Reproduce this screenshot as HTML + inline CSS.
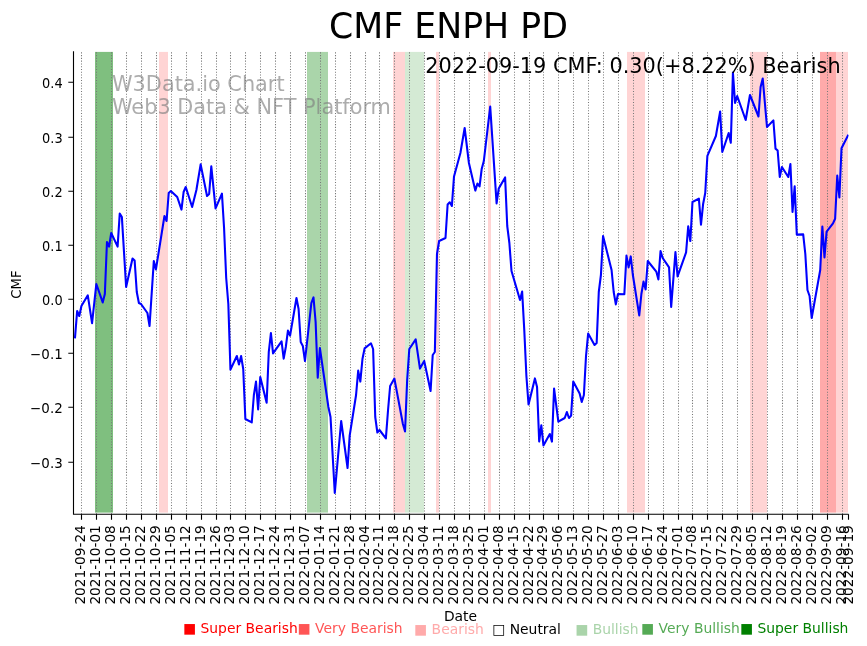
<!DOCTYPE html>
<html lang="en"><head><meta charset="utf-8"><title>CMF ENPH PD</title>
<style>html,body{margin:0;padding:0;background:#fff}svg{display:block}text{font-family:"DejaVu Sans","Liberation Sans",sans-serif}</style></head><body>
<svg width="867" height="646" viewBox="0 0 867 646">
<rect width="867" height="646" fill="#fff"/>
<rect x="95" y="51.9" width="18.00" height="460.70" fill="#008000" fill-opacity="0.5"/>
<rect x="159" y="51.9" width="9.00" height="460.70" fill="#ff0000" fill-opacity="0.1667"/>
<rect x="307" y="51.9" width="21.00" height="460.70" fill="#008000" fill-opacity="0.3333"/>
<rect x="393" y="51.9" width="12.00" height="460.70" fill="#ff0000" fill-opacity="0.1667"/>
<rect x="405" y="51.9" width="19.00" height="460.70" fill="#008000" fill-opacity="0.1667"/>
<rect x="436" y="51.9" width="3.00" height="460.70" fill="#ff0000" fill-opacity="0.1667"/>
<rect x="488" y="51.9" width="3.00" height="460.70" fill="#ff0000" fill-opacity="0.1667"/>
<rect x="627" y="51.9" width="18.00" height="460.70" fill="#ff0000" fill-opacity="0.1667"/>
<rect x="750" y="51.9" width="17.00" height="460.70" fill="#ff0000" fill-opacity="0.1667"/>
<rect x="820" y="51.9" width="16.00" height="460.70" fill="#ff0000" fill-opacity="0.3333"/>
<rect x="836" y="51.9" width="12.00" height="460.70" fill="#ff0000" fill-opacity="0.1667"/>
<path d="M81.5 514.3V51.9M96.5 514.3V51.9M111.5 514.3V51.9M126.5 514.3V51.9M141.5 514.3V51.9M156.5 514.3V51.9M171.5 514.3V51.9M186.5 514.3V51.9M201.5 514.3V51.9M216.5 514.3V51.9M230.5 514.3V51.9M245.5 514.3V51.9M260.5 514.3V51.9M275.5 514.3V51.9M290.5 514.3V51.9M305.5 514.3V51.9M320.5 514.3V51.9M335.5 514.3V51.9M350.5 514.3V51.9M365.5 514.3V51.9M379.5 514.3V51.9M394.5 514.3V51.9M409.5 514.3V51.9M424.5 514.3V51.9M439.5 514.3V51.9M454.5 514.3V51.9M469.5 514.3V51.9M484.5 514.3V51.9M499.5 514.3V51.9M514.5 514.3V51.9M529.5 514.3V51.9M543.5 514.3V51.9M558.5 514.3V51.9M573.5 514.3V51.9M588.5 514.3V51.9M603.5 514.3V51.9M618.5 514.3V51.9M633.5 514.3V51.9M648.5 514.3V51.9M663.5 514.3V51.9M678.5 514.3V51.9M692.5 514.3V51.9M707.5 514.3V51.9M722.5 514.3V51.9M737.5 514.3V51.9M752.5 514.3V51.9M767.5 514.3V51.9M782.5 514.3V51.9M797.5 514.3V51.9M812.5 514.3V51.9M827.5 514.3V51.9M842.5 514.3V51.9" stroke="#787878" stroke-width="1.04" stroke-dasharray="1.04 1.72" fill="none"/>
<g fill="#808080" fill-opacity="0.65" font-size="20.83px"><text x="112.0" y="90.5">W3Data.io Chart</text><text x="112.0" y="113.5">Web3 Data &amp; NFT Platform</text></g>
<clipPath id="c"><rect x="73.5" y="51.9" width="775.0" height="462.4"/></clipPath>
<polyline clip-path="url(#c)" fill="none" stroke="#0000ff" stroke-width="2.08" stroke-linejoin="round" stroke-linecap="square" points="75.03,337.4 77.16,311 79.29,316 81.42,306 87.8,295.3 92.06,323.2 96.32,284 102.71,302.4 104.84,294 106.97,242 109.1,246.6 111.22,233 117.61,246.6 119.74,213.6 121.87,217 126.13,287 132.52,258.6 134.64,260.6 136.77,292 138.9,303 141.03,304 147.42,313 149.55,326 153.81,261 155.94,269.4 164.45,216 166.58,221 168.71,193 170.84,191 177.23,197 181.49,209.6 183.61,192 185.74,187 192.13,207 196.39,190 200.65,164.4 207.03,196 209.16,194 211.29,166.4 215.55,208.4 221.94,193.6 224.07,228 226.2,278 228.33,304 230.45,369.6 236.84,356 238.97,364.4 241.1,356 243.23,369 245.36,419 251.75,422.4 253.88,395 256.0,381.6 258.13,409.5 260.26,377 266.65,402.8 268.78,352 270.91,333 273.04,353.4 281.55,341.4 283.68,358.6 285.81,347 287.94,330.6 290.07,335.6 296.46,298 298.59,309 300.72,342 302.84,346 304.97,361 311.36,303 313.49,297.4 315.62,322 317.75,377.6 319.88,348 328.39,407 330.52,417 334.78,493 341.17,421 347.56,468 349.69,435.6 356.07,395 358.2,370.6 360.33,381.6 362.46,359 364.59,348.4 370.98,343.3 373.11,349 375.24,417 377.36,432.5 379.49,430 385.88,438.4 388.01,410.5 390.14,386 394.4,378.6 402.91,424 405.04,431.4 407.17,380 409.3,349 415.69,339.4 419.95,368.6 424.2,361 430.59,391 432.72,355 434.85,352 436.98,254 439.11,241 445.5,238 447.63,204.5 449.75,202.3 451.88,206 454.01,176.4 460.4,153 464.66,128 468.92,163 475.3,190.6 477.43,183.6 479.56,186.4 481.69,169 483.82,161 490.21,106.6 496.59,203.4 498.72,188.6 505.11,177.4 507.24,226 509.37,243 511.5,271 520.02,300 522.14,291.6 524.27,330 526.4,376 528.53,404.4 534.92,378.4 537.05,387 539.18,441.5 541.31,425.3 543.44,445.4 549.82,434 551.95,441.6 554.08,388.6 558.34,421.6 564.73,418 566.86,412 568.98,418 571.11,415.6 573.24,381.6 579.63,393.6 581.76,402 583.89,395 586.02,356 588.15,333.6 594.53,345 596.66,343 598.79,292 600.92,275 603.05,236 611.57,270 613.7,292 615.83,304.4 617.95,294 624.34,294.2 626.47,255.6 628.6,267.4 630.73,256.4 632.86,275 639.25,315.4 641.38,294 643.5,281.6 645.63,289.4 647.76,261 656.28,271.6 658.41,279.4 660.54,251 662.67,258 669.05,267.4 671.18,307 675.44,252 677.57,276.4 686.09,252.4 688.22,226.4 690.34,241 692.47,202 698.86,198.6 700.99,224.6 703.12,204 705.25,193 707.38,155.8 715.89,136 720.15,111.5 722.28,152 728.67,133 730.8,142.8 732.93,72.6 735.06,103 737.19,96 745.7,120 749.96,95 758.48,116.5 760.61,87 762.73,78.6 766.99,127 773.38,120.4 775.51,148.6 777.64,150.5 779.77,177 781.9,167 788.28,177 790.41,164 792.54,212 794.67,186.4 796.8,234.6 803.19,234.4 805.32,254 807.45,290 809.58,296 811.7,318 820.22,270 822.35,226.6 824.48,257.4 826.61,231.6 833.0,223.4 835.12,218.8 837.25,175.6 839.38,197.4 841.51,148.3 847.9,135.6"/>
<text x="840.6" y="72.6" font-size="20.83px" text-anchor="end" fill="#000">2022-09-19 CMF: 0.30(+8.22%) Bearish</text>
<path d="M73.5 51.9V514.3H848.0" stroke="#000" stroke-width="1.11" fill="none" stroke-linecap="square"/>
<path d="M81.5 514.3v5.5M96.5 514.3v5.5M111.5 514.3v5.5M126.5 514.3v5.5M141.5 514.3v5.5M156.5 514.3v5.5M171.5 514.3v5.5M186.5 514.3v5.5M201.5 514.3v5.5M216.5 514.3v5.5M230.5 514.3v5.5M245.5 514.3v5.5M260.5 514.3v5.5M275.5 514.3v5.5M290.5 514.3v5.5M305.5 514.3v5.5M320.5 514.3v5.5M335.5 514.3v5.5M350.5 514.3v5.5M365.5 514.3v5.5M379.5 514.3v5.5M394.5 514.3v5.5M409.5 514.3v5.5M424.5 514.3v5.5M439.5 514.3v5.5M454.5 514.3v5.5M469.5 514.3v5.5M484.5 514.3v5.5M499.5 514.3v5.5M514.5 514.3v5.5M529.5 514.3v5.5M543.5 514.3v5.5M558.5 514.3v5.5M573.5 514.3v5.5M588.5 514.3v5.5M603.5 514.3v5.5M618.5 514.3v5.5M633.5 514.3v5.5M648.5 514.3v5.5M663.5 514.3v5.5M678.5 514.3v5.5M692.5 514.3v5.5M707.5 514.3v5.5M722.5 514.3v5.5M737.5 514.3v5.5M752.5 514.3v5.5M767.5 514.3v5.5M782.5 514.3v5.5M797.5 514.3v5.5M812.5 514.3v5.5M827.5 514.3v5.5M842.5 514.3v5.5M848.5 514.3v5.5M73.5 82.3h-5.2M73.5 137.3h-5.2M73.5 191.3h-5.2M73.5 245.3h-5.2M73.5 299.3h-5.2M73.5 353.3h-5.2M73.5 407.3h-5.2M73.5 462.3h-5.2" stroke="#000" stroke-width="1.11" fill="none"/>
<g font-size="13.89px" fill="#000">
<text x="62.7" y="87.9" text-anchor="end" textLength="20.6" lengthAdjust="spacingAndGlyphs">0.4</text>
<text x="62.7" y="142.9" text-anchor="end" textLength="20.6" lengthAdjust="spacingAndGlyphs">0.3</text>
<text x="62.7" y="196.9" text-anchor="end" textLength="20.6" lengthAdjust="spacingAndGlyphs">0.2</text>
<text x="62.7" y="250.9" text-anchor="end" textLength="20.6" lengthAdjust="spacingAndGlyphs">0.1</text>
<text x="62.7" y="304.9" text-anchor="end" textLength="20.6" lengthAdjust="spacingAndGlyphs">0.0</text>
<text x="62.7" y="358.9" text-anchor="end" textLength="32.6" lengthAdjust="spacingAndGlyphs">−0.1</text>
<text x="62.7" y="412.9" text-anchor="end" textLength="32.6" lengthAdjust="spacingAndGlyphs">−0.2</text>
<text x="62.7" y="467.9" text-anchor="end" textLength="32.6" lengthAdjust="spacingAndGlyphs">−0.3</text>
<text transform="translate(85.0,525.2) rotate(-90)" text-anchor="end" font-size="13.66px">2021-09-24</text>
<text transform="translate(100.0,525.2) rotate(-90)" text-anchor="end" font-size="13.66px">2021-10-01</text>
<text transform="translate(115.0,525.2) rotate(-90)" text-anchor="end" font-size="13.66px">2021-10-08</text>
<text transform="translate(130.0,525.2) rotate(-90)" text-anchor="end" font-size="13.66px">2021-10-15</text>
<text transform="translate(145.0,525.2) rotate(-90)" text-anchor="end" font-size="13.66px">2021-10-22</text>
<text transform="translate(160.0,525.2) rotate(-90)" text-anchor="end" font-size="13.66px">2021-10-29</text>
<text transform="translate(175.0,525.2) rotate(-90)" text-anchor="end" font-size="13.66px">2021-11-05</text>
<text transform="translate(190.0,525.2) rotate(-90)" text-anchor="end" font-size="13.66px">2021-11-12</text>
<text transform="translate(205.0,525.2) rotate(-90)" text-anchor="end" font-size="13.66px">2021-11-19</text>
<text transform="translate(220.0,525.2) rotate(-90)" text-anchor="end" font-size="13.66px">2021-11-26</text>
<text transform="translate(234.0,525.2) rotate(-90)" text-anchor="end" font-size="13.66px">2021-12-03</text>
<text transform="translate(249.0,525.2) rotate(-90)" text-anchor="end" font-size="13.66px">2021-12-10</text>
<text transform="translate(264.0,525.2) rotate(-90)" text-anchor="end" font-size="13.66px">2021-12-17</text>
<text transform="translate(279.0,525.2) rotate(-90)" text-anchor="end" font-size="13.66px">2021-12-24</text>
<text transform="translate(294.0,525.2) rotate(-90)" text-anchor="end" font-size="13.66px">2021-12-31</text>
<text transform="translate(309.0,525.2) rotate(-90)" text-anchor="end" font-size="13.66px">2022-01-07</text>
<text transform="translate(324.0,525.2) rotate(-90)" text-anchor="end" font-size="13.66px">2022-01-14</text>
<text transform="translate(339.0,525.2) rotate(-90)" text-anchor="end" font-size="13.66px">2022-01-21</text>
<text transform="translate(354.0,525.2) rotate(-90)" text-anchor="end" font-size="13.66px">2022-01-28</text>
<text transform="translate(369.0,525.2) rotate(-90)" text-anchor="end" font-size="13.66px">2022-02-04</text>
<text transform="translate(383.0,525.2) rotate(-90)" text-anchor="end" font-size="13.66px">2022-02-11</text>
<text transform="translate(398.0,525.2) rotate(-90)" text-anchor="end" font-size="13.66px">2022-02-18</text>
<text transform="translate(413.0,525.2) rotate(-90)" text-anchor="end" font-size="13.66px">2022-02-25</text>
<text transform="translate(428.0,525.2) rotate(-90)" text-anchor="end" font-size="13.66px">2022-03-04</text>
<text transform="translate(443.0,525.2) rotate(-90)" text-anchor="end" font-size="13.66px">2022-03-11</text>
<text transform="translate(458.0,525.2) rotate(-90)" text-anchor="end" font-size="13.66px">2022-03-18</text>
<text transform="translate(473.0,525.2) rotate(-90)" text-anchor="end" font-size="13.66px">2022-03-25</text>
<text transform="translate(488.0,525.2) rotate(-90)" text-anchor="end" font-size="13.66px">2022-04-01</text>
<text transform="translate(503.0,525.2) rotate(-90)" text-anchor="end" font-size="13.66px">2022-04-08</text>
<text transform="translate(518.0,525.2) rotate(-90)" text-anchor="end" font-size="13.66px">2022-04-15</text>
<text transform="translate(533.0,525.2) rotate(-90)" text-anchor="end" font-size="13.66px">2022-04-22</text>
<text transform="translate(547.0,525.2) rotate(-90)" text-anchor="end" font-size="13.66px">2022-04-29</text>
<text transform="translate(562.0,525.2) rotate(-90)" text-anchor="end" font-size="13.66px">2022-05-06</text>
<text transform="translate(577.0,525.2) rotate(-90)" text-anchor="end" font-size="13.66px">2022-05-13</text>
<text transform="translate(592.0,525.2) rotate(-90)" text-anchor="end" font-size="13.66px">2022-05-20</text>
<text transform="translate(607.0,525.2) rotate(-90)" text-anchor="end" font-size="13.66px">2022-05-27</text>
<text transform="translate(622.0,525.2) rotate(-90)" text-anchor="end" font-size="13.66px">2022-06-03</text>
<text transform="translate(637.0,525.2) rotate(-90)" text-anchor="end" font-size="13.66px">2022-06-10</text>
<text transform="translate(652.0,525.2) rotate(-90)" text-anchor="end" font-size="13.66px">2022-06-17</text>
<text transform="translate(667.0,525.2) rotate(-90)" text-anchor="end" font-size="13.66px">2022-06-24</text>
<text transform="translate(682.0,525.2) rotate(-90)" text-anchor="end" font-size="13.66px">2022-07-01</text>
<text transform="translate(696.0,525.2) rotate(-90)" text-anchor="end" font-size="13.66px">2022-07-08</text>
<text transform="translate(711.0,525.2) rotate(-90)" text-anchor="end" font-size="13.66px">2022-07-15</text>
<text transform="translate(726.0,525.2) rotate(-90)" text-anchor="end" font-size="13.66px">2022-07-22</text>
<text transform="translate(741.0,525.2) rotate(-90)" text-anchor="end" font-size="13.66px">2022-07-29</text>
<text transform="translate(756.0,525.2) rotate(-90)" text-anchor="end" font-size="13.66px">2022-08-05</text>
<text transform="translate(771.0,525.2) rotate(-90)" text-anchor="end" font-size="13.66px">2022-08-12</text>
<text transform="translate(786.0,525.2) rotate(-90)" text-anchor="end" font-size="13.66px">2022-08-19</text>
<text transform="translate(801.0,525.2) rotate(-90)" text-anchor="end" font-size="13.66px">2022-08-26</text>
<text transform="translate(816.0,525.2) rotate(-90)" text-anchor="end" font-size="13.66px">2022-09-02</text>
<text transform="translate(831.0,525.2) rotate(-90)" text-anchor="end" font-size="13.66px">2022-09-09</text>
<text transform="translate(846.0,525.2) rotate(-90)" text-anchor="end" font-size="13.66px">2022-09-16</text>
<text transform="translate(853.0,525.2) rotate(-90)" text-anchor="end" font-size="13.66px">2022-09-19</text>
<text transform="translate(21.3,284.6) rotate(-90)" text-anchor="middle" textLength="28.1" lengthAdjust="spacingAndGlyphs">CMF</text>
<text x="460.5" y="620.8" text-anchor="middle">Date</text>
<text x="183.0" y="633" fill="#ff0000">■ Super Bearish</text>
<text x="297.6" y="633" fill="#ff5555">■ Very Bearish</text>
<text x="414.1" y="634" fill="#ffaaaa">■ Bearish</text>
<text x="492.2" y="634" fill="#000000">□ Neutral</text>
<text x="575.2" y="634" fill="#aad4aa">■ Bullish</text>
<text x="641.1" y="633" fill="#55aa55">■ Very Bullish</text>
<text x="739.95" y="633" fill="#008000">■ Super Bullish</text>
</g>
<text x="448.5" y="37.5" font-size="34.72px" text-anchor="middle" fill="#000">CMF ENPH PD</text>
</svg></body></html>
